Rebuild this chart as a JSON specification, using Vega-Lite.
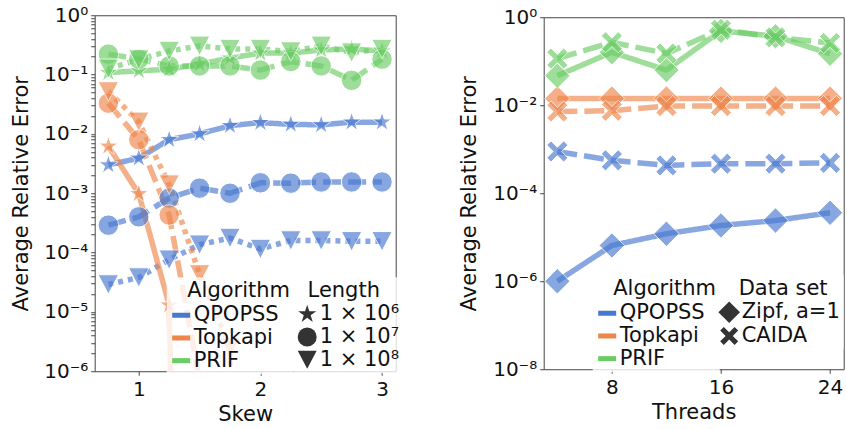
{
  "$schema": "https://vega.github.io/schema/vega-lite/v6.json",
  "padding": {"left": 9.7, "top": 4, "right": 2, "bottom": 2},
  "spacing": 54,
  "center": true,
  "config": {
    "font": "DejaVu Sans",
    "view": {"stroke": "#444", "strokeWidth": 1},
    "axis": {"labelFont": "DejaVu Sans", "titleFont": "DejaVu Sans", "labelFontSize": 20, "titleFontSize": 21, "titleFontWeight": "normal", "labelColor": "#111", "titleColor": "#111", "domain": false, "grid": false, "tickColor": "#444", "tickSize": 4, "labelPadding": 3},
    "legend": {"titleFontSize": 21, "labelFontSize": 21, "titleFontWeight": "normal", "titleColor": "#111", "labelColor": "#111", "titleFont": "DejaVu Sans", "labelFont": "DejaVu Sans", "rowPadding": 0.7, "titlePadding": 2.5, "padding": 3, "fillColor": "rgba(255,255,255,0.8)"}
  },
  "resolve": {
    "scale": {"color": "independent", "shape": "independent", "strokeDash": "independent"},
    "legend": {"color": "independent", "shape": "independent", "strokeDash": "independent"}
  },
  "datasets": {
    "skew": [
      {"Skew": 0.75, "Algorithm": "QPOPSS", "Length": "1 × 10⁶", "Error": 0.0030},
      {"Skew": 1.0, "Algorithm": "QPOPSS", "Length": "1 × 10⁶", "Error": 0.0039},
      {"Skew": 1.25, "Algorithm": "QPOPSS", "Length": "1 × 10⁶", "Error": 0.008},
      {"Skew": 1.5, "Algorithm": "QPOPSS", "Length": "1 × 10⁶", "Error": 0.010},
      {"Skew": 1.75, "Algorithm": "QPOPSS", "Length": "1 × 10⁶", "Error": 0.0138},
      {"Skew": 2.0, "Algorithm": "QPOPSS", "Length": "1 × 10⁶", "Error": 0.0155},
      {"Skew": 2.25, "Algorithm": "QPOPSS", "Length": "1 × 10⁶", "Error": 0.0145},
      {"Skew": 2.5, "Algorithm": "QPOPSS", "Length": "1 × 10⁶", "Error": 0.0142},
      {"Skew": 2.75, "Algorithm": "QPOPSS", "Length": "1 × 10⁶", "Error": 0.0158},
      {"Skew": 3.0, "Algorithm": "QPOPSS", "Length": "1 × 10⁶", "Error": 0.0158},
      {"Skew": 0.75, "Algorithm": "QPOPSS", "Length": "1 × 10⁷", "Error": 0.00029},
      {"Skew": 1.0, "Algorithm": "QPOPSS", "Length": "1 × 10⁷", "Error": 0.00040},
      {"Skew": 1.25, "Algorithm": "QPOPSS", "Length": "1 × 10⁷", "Error": 0.00083},
      {"Skew": 1.5, "Algorithm": "QPOPSS", "Length": "1 × 10⁷", "Error": 0.00122},
      {"Skew": 1.75, "Algorithm": "QPOPSS", "Length": "1 × 10⁷", "Error": 0.00100},
      {"Skew": 2.0, "Algorithm": "QPOPSS", "Length": "1 × 10⁷", "Error": 0.00150},
      {"Skew": 2.25, "Algorithm": "QPOPSS", "Length": "1 × 10⁷", "Error": 0.00148},
      {"Skew": 2.5, "Algorithm": "QPOPSS", "Length": "1 × 10⁷", "Error": 0.00155},
      {"Skew": 2.75, "Algorithm": "QPOPSS", "Length": "1 × 10⁷", "Error": 0.00155},
      {"Skew": 3.0, "Algorithm": "QPOPSS", "Length": "1 × 10⁷", "Error": 0.00155},
      {"Skew": 0.75, "Algorithm": "QPOPSS", "Length": "1 × 10⁸", "Error": 0.000029},
      {"Skew": 1.0, "Algorithm": "QPOPSS", "Length": "1 × 10⁸", "Error": 0.000038},
      {"Skew": 1.25, "Algorithm": "QPOPSS", "Length": "1 × 10⁸", "Error": 0.000076},
      {"Skew": 1.5, "Algorithm": "QPOPSS", "Length": "1 × 10⁸", "Error": 0.000136},
      {"Skew": 1.75, "Algorithm": "QPOPSS", "Length": "1 × 10⁸", "Error": 0.000176},
      {"Skew": 2.0, "Algorithm": "QPOPSS", "Length": "1 × 10⁸", "Error": 0.000115},
      {"Skew": 2.25, "Algorithm": "QPOPSS", "Length": "1 × 10⁸", "Error": 0.000160},
      {"Skew": 2.5, "Algorithm": "QPOPSS", "Length": "1 × 10⁸", "Error": 0.000160},
      {"Skew": 2.75, "Algorithm": "QPOPSS", "Length": "1 × 10⁸", "Error": 0.000155},
      {"Skew": 3.0, "Algorithm": "QPOPSS", "Length": "1 × 10⁸", "Error": 0.000155},
      {"Skew": 0.75, "Algorithm": "Topkapi", "Length": "1 × 10⁶", "Error": 0.0062},
      {"Skew": 1.0, "Algorithm": "Topkapi", "Length": "1 × 10⁶", "Error": 0.00098},
      {"Skew": 1.25, "Algorithm": "Topkapi", "Length": "1 × 10⁶", "Error": 0.000013},
      {"Skew": 1.5, "Algorithm": "Topkapi", "Length": "1 × 10⁶", "Error": 1e-30},
      {"Skew": 1.75, "Algorithm": "Topkapi", "Length": "1 × 10⁶", "Error": 1e-30},
      {"Skew": 2.0, "Algorithm": "Topkapi", "Length": "1 × 10⁶", "Error": 1e-30},
      {"Skew": 2.25, "Algorithm": "Topkapi", "Length": "1 × 10⁶", "Error": 1e-30},
      {"Skew": 2.5, "Algorithm": "Topkapi", "Length": "1 × 10⁶", "Error": 1e-30},
      {"Skew": 2.75, "Algorithm": "Topkapi", "Length": "1 × 10⁶", "Error": 1e-30},
      {"Skew": 3.0, "Algorithm": "Topkapi", "Length": "1 × 10⁶", "Error": 1e-30},
      {"Skew": 0.75, "Algorithm": "Topkapi", "Length": "1 × 10⁷", "Error": 0.033},
      {"Skew": 1.0, "Algorithm": "Topkapi", "Length": "1 × 10⁷", "Error": 0.008},
      {"Skew": 1.25, "Algorithm": "Topkapi", "Length": "1 × 10⁷", "Error": 0.00043},
      {"Skew": 1.5, "Algorithm": "Topkapi", "Length": "1 × 10⁷", "Error": 7e-7},
      {"Skew": 1.75, "Algorithm": "Topkapi", "Length": "1 × 10⁷", "Error": 1e-30},
      {"Skew": 2.0, "Algorithm": "Topkapi", "Length": "1 × 10⁷", "Error": 1e-30},
      {"Skew": 2.25, "Algorithm": "Topkapi", "Length": "1 × 10⁷", "Error": 1e-30},
      {"Skew": 2.5, "Algorithm": "Topkapi", "Length": "1 × 10⁷", "Error": 1e-30},
      {"Skew": 2.75, "Algorithm": "Topkapi", "Length": "1 × 10⁷", "Error": 1e-30},
      {"Skew": 3.0, "Algorithm": "Topkapi", "Length": "1 × 10⁷", "Error": 1e-30},
      {"Skew": 0.75, "Algorithm": "Topkapi", "Length": "1 × 10⁸", "Error": 0.052},
      {"Skew": 1.0, "Algorithm": "Topkapi", "Length": "1 × 10⁸", "Error": 0.016},
      {"Skew": 1.25, "Algorithm": "Topkapi", "Length": "1 × 10⁸", "Error": 0.0014},
      {"Skew": 1.5, "Algorithm": "Topkapi", "Length": "1 × 10⁸", "Error": 0.000043},
      {"Skew": 1.75, "Algorithm": "Topkapi", "Length": "1 × 10⁸", "Error": 0.0000025},
      {"Skew": 2.0, "Algorithm": "Topkapi", "Length": "1 × 10⁸", "Error": 1e-30},
      {"Skew": 2.25, "Algorithm": "Topkapi", "Length": "1 × 10⁸", "Error": 1e-30},
      {"Skew": 2.5, "Algorithm": "Topkapi", "Length": "1 × 10⁸", "Error": 1e-30},
      {"Skew": 2.75, "Algorithm": "Topkapi", "Length": "1 × 10⁸", "Error": 1e-30},
      {"Skew": 3.0, "Algorithm": "Topkapi", "Length": "1 × 10⁸", "Error": 1e-30},
      {"Skew": 0.75, "Algorithm": "PRIF", "Length": "1 × 10⁶", "Error": 0.108},
      {"Skew": 1.0, "Algorithm": "PRIF", "Length": "1 × 10⁶", "Error": 0.116},
      {"Skew": 1.25, "Algorithm": "PRIF", "Length": "1 × 10⁶", "Error": 0.123},
      {"Skew": 1.5, "Algorithm": "PRIF", "Length": "1 × 10⁶", "Error": 0.15},
      {"Skew": 1.75, "Algorithm": "PRIF", "Length": "1 × 10⁶", "Error": 0.19},
      {"Skew": 2.0, "Algorithm": "PRIF", "Length": "1 × 10⁶", "Error": 0.23},
      {"Skew": 2.25, "Algorithm": "PRIF", "Length": "1 × 10⁶", "Error": 0.23},
      {"Skew": 2.5, "Algorithm": "PRIF", "Length": "1 × 10⁶", "Error": 0.26},
      {"Skew": 2.75, "Algorithm": "PRIF", "Length": "1 × 10⁶", "Error": 0.27},
      {"Skew": 3.0, "Algorithm": "PRIF", "Length": "1 × 10⁶", "Error": 0.25},
      {"Skew": 0.75, "Algorithm": "PRIF", "Length": "1 × 10⁷", "Error": 0.221},
      {"Skew": 1.0, "Algorithm": "PRIF", "Length": "1 × 10⁷", "Error": 0.182},
      {"Skew": 1.25, "Algorithm": "PRIF", "Length": "1 × 10⁷", "Error": 0.14},
      {"Skew": 1.5, "Algorithm": "PRIF", "Length": "1 × 10⁷", "Error": 0.14},
      {"Skew": 1.75, "Algorithm": "PRIF", "Length": "1 × 10⁷", "Error": 0.14},
      {"Skew": 2.0, "Algorithm": "PRIF", "Length": "1 × 10⁷", "Error": 0.119},
      {"Skew": 2.25, "Algorithm": "PRIF", "Length": "1 × 10⁷", "Error": 0.166},
      {"Skew": 2.5, "Algorithm": "PRIF", "Length": "1 × 10⁷", "Error": 0.14},
      {"Skew": 2.75, "Algorithm": "PRIF", "Length": "1 × 10⁷", "Error": 0.08},
      {"Skew": 3.0, "Algorithm": "PRIF", "Length": "1 × 10⁷", "Error": 0.182},
      {"Skew": 0.75, "Algorithm": "PRIF", "Length": "1 × 10⁸", "Error": 0.125},
      {"Skew": 1.0, "Algorithm": "PRIF", "Length": "1 × 10⁸", "Error": 0.18},
      {"Skew": 1.25, "Algorithm": "PRIF", "Length": "1 × 10⁸", "Error": 0.25},
      {"Skew": 1.5, "Algorithm": "PRIF", "Length": "1 × 10⁸", "Error": 0.305},
      {"Skew": 1.75, "Algorithm": "PRIF", "Length": "1 × 10⁸", "Error": 0.27},
      {"Skew": 2.0, "Algorithm": "PRIF", "Length": "1 × 10⁸", "Error": 0.27},
      {"Skew": 2.25, "Algorithm": "PRIF", "Length": "1 × 10⁸", "Error": 0.245},
      {"Skew": 2.5, "Algorithm": "PRIF", "Length": "1 × 10⁸", "Error": 0.305},
      {"Skew": 2.75, "Algorithm": "PRIF", "Length": "1 × 10⁸", "Error": 0.235},
      {"Skew": 3.0, "Algorithm": "PRIF", "Length": "1 × 10⁸", "Error": 0.27}
    ],
    "threads": [
      {"Threads": 4, "Algorithm": "QPOPSS", "Dataset": "Zipf, a=1", "Error": 0.000001},
      {"Threads": 8, "Algorithm": "QPOPSS", "Dataset": "Zipf, a=1", "Error": 0.0000065},
      {"Threads": 12, "Algorithm": "QPOPSS", "Dataset": "Zipf, a=1", "Error": 0.000012},
      {"Threads": 16, "Algorithm": "QPOPSS", "Dataset": "Zipf, a=1", "Error": 0.0000185},
      {"Threads": 20, "Algorithm": "QPOPSS", "Dataset": "Zipf, a=1", "Error": 0.000024},
      {"Threads": 24, "Algorithm": "QPOPSS", "Dataset": "Zipf, a=1", "Error": 0.000036},
      {"Threads": 4, "Algorithm": "QPOPSS", "Dataset": "CAIDA", "Error": 0.00089},
      {"Threads": 8, "Algorithm": "QPOPSS", "Dataset": "CAIDA", "Error": 0.00056},
      {"Threads": 12, "Algorithm": "QPOPSS", "Dataset": "CAIDA", "Error": 0.00043},
      {"Threads": 16, "Algorithm": "QPOPSS", "Dataset": "CAIDA", "Error": 0.00047},
      {"Threads": 20, "Algorithm": "QPOPSS", "Dataset": "CAIDA", "Error": 0.00047},
      {"Threads": 24, "Algorithm": "QPOPSS", "Dataset": "CAIDA", "Error": 0.00049},
      {"Threads": 4, "Algorithm": "Topkapi", "Dataset": "Zipf, a=1", "Error": 0.0142},
      {"Threads": 8, "Algorithm": "Topkapi", "Dataset": "Zipf, a=1", "Error": 0.0142},
      {"Threads": 12, "Algorithm": "Topkapi", "Dataset": "Zipf, a=1", "Error": 0.0142},
      {"Threads": 16, "Algorithm": "Topkapi", "Dataset": "Zipf, a=1", "Error": 0.0142},
      {"Threads": 20, "Algorithm": "Topkapi", "Dataset": "Zipf, a=1", "Error": 0.0142},
      {"Threads": 24, "Algorithm": "Topkapi", "Dataset": "Zipf, a=1", "Error": 0.0142},
      {"Threads": 4, "Algorithm": "Topkapi", "Dataset": "CAIDA", "Error": 0.0072},
      {"Threads": 8, "Algorithm": "Topkapi", "Dataset": "CAIDA", "Error": 0.0075},
      {"Threads": 12, "Algorithm": "Topkapi", "Dataset": "CAIDA", "Error": 0.0096},
      {"Threads": 16, "Algorithm": "Topkapi", "Dataset": "CAIDA", "Error": 0.0096},
      {"Threads": 20, "Algorithm": "Topkapi", "Dataset": "CAIDA", "Error": 0.0096},
      {"Threads": 24, "Algorithm": "Topkapi", "Dataset": "CAIDA", "Error": 0.0096},
      {"Threads": 4, "Algorithm": "PRIF", "Dataset": "Zipf, a=1", "Error": 0.047},
      {"Threads": 8, "Algorithm": "PRIF", "Dataset": "Zipf, a=1", "Error": 0.16},
      {"Threads": 12, "Algorithm": "PRIF", "Dataset": "Zipf, a=1", "Error": 0.063},
      {"Threads": 16, "Algorithm": "PRIF", "Dataset": "Zipf, a=1", "Error": 0.49},
      {"Threads": 20, "Algorithm": "PRIF", "Dataset": "Zipf, a=1", "Error": 0.37},
      {"Threads": 24, "Algorithm": "PRIF", "Dataset": "Zipf, a=1", "Error": 0.148},
      {"Threads": 4, "Algorithm": "PRIF", "Dataset": "CAIDA", "Error": 0.115},
      {"Threads": 8, "Algorithm": "PRIF", "Dataset": "CAIDA", "Error": 0.27},
      {"Threads": 12, "Algorithm": "PRIF", "Dataset": "CAIDA", "Error": 0.15},
      {"Threads": 16, "Algorithm": "PRIF", "Dataset": "CAIDA", "Error": 0.52},
      {"Threads": 20, "Algorithm": "PRIF", "Dataset": "CAIDA", "Error": 0.35},
      {"Threads": 24, "Algorithm": "PRIF", "Dataset": "CAIDA", "Error": 0.26}
    ]
  },
  "hconcat": [
    {
      "width": 301,
      "height": 356,
      "data": {"name": "skew"},
      "encoding": {
        "x": {"field": "Skew", "type": "quantitative", "scale": {"domain": [0.6375, 3.1125], "nice": false, "zero": false}, "axis": {"values": [1, 2, 3], "title": "Skew", "labelFlush": false, "labelPadding": 4}},
        "y": {"field": "Error", "type": "quantitative", "scale": {"type": "log", "domain": [0.000001, 1], "nice": false},
          "axis": {"title": "Average Relative Error", "titlePadding": 12.3, "labelOverlap": false, "labelFlush": false,
            "values": [0.000001, 0.000002, 0.000003, 0.000004, 0.000005, 0.000006, 0.000007, 0.000008, 0.000009, 0.00001, 0.00002, 0.00003, 0.00004, 0.00005, 0.00006, 0.00007, 0.00008, 0.00009, 0.0001, 0.0002, 0.0003, 0.0004, 0.0005, 0.0006, 0.0007, 0.0008, 0.0009, 0.001, 0.002, 0.003, 0.004, 0.005, 0.006, 0.007, 0.008, 0.009, 0.01, 0.02, 0.03, 0.04, 0.05, 0.06, 0.07, 0.08, 0.09, 0.1, 0.2, 0.3, 0.4, 0.5, 0.6, 0.7, 0.8, 0.9, 1],
            "labelExpr": "abs(log(datum.value)/LN10 - round(log(datum.value)/LN10)) < 0.001 ? ['10⁰','10⁻¹','10⁻²','10⁻³','10⁻⁴','10⁻⁵','10⁻⁶','10⁻⁷','10⁻⁸'][round(-log(datum.value)/LN10)] : ''",
            "encode": {"ticks": {"update": {"x2": {"signal": "abs(log(datum.value)/LN10 - round(log(datum.value)/LN10)) < 0.001 ? -4 : -2"}}}}
          }}
      },
      "layer": [
        {
          "mark": {"type": "line", "strokeWidth": 5.5, "opacity": 0.65, "clip": true, "strokeCap": "butt", "strokeJoin": "round"},
          "encoding": {
            "color": {"field": "Algorithm", "type": "nominal", "scale": {"domain": ["QPOPSS", "Topkapi", "PRIF"], "range": ["#4878d0", "#ee854a", "#6acc64"]},
              "legend": {"orient": "none", "legendX": 72, "legendY": 262, "title": "\u200b\u00a0\u00a0\u2009Algorithm", "symbolType": "stroke", "symbolSize": 324, "symbolStrokeWidth": 5, "labelOffset": 1, "symbolOpacity": 1,
                "encode": {"symbols": {"update": {"opacity": {"value": 1}}}}}},
            "strokeDash": {"field": "Length", "type": "nominal", "scale": {"domain": ["1 × 10⁶", "1 × 10⁷", "1 × 10⁸"], "range": [[1, 0], [18, 7], [5, 5]]},
              "legend": {"orient": "none", "legendX": 199, "legendY": 262, "title": "\u200b\u00a0\u2009Length", "symbolSize": 360, "labelOffset": 2,
                "symbolFillColor": "#333", "symbolStrokeColor": "#333", "symbolStrokeWidth": 0, "symbolOpacity": 1, "symbolDash": [1, 0]}}
          }
        },
        {
          "mark": {"type": "point", "filled": true, "opacity": 0.65, "size": 420, "stroke": "white", "strokeWidth": 1, "clip": true},
          "encoding": {
            "color": {"field": "Algorithm", "type": "nominal", "scale": {"domain": ["QPOPSS", "Topkapi", "PRIF"], "range": ["#4878d0", "#ee854a", "#6acc64"]}, "legend": null},
            "shape": {"field": "Length", "type": "nominal",
              "scale": {"domain": ["1 × 10⁶", "1 × 10⁷", "1 × 10⁸"], "range": ["M0,-1L0.225,-0.309L0.951,-0.309L0.363,0.118L0.588,0.809L0,0.382L-0.588,0.809L-0.363,0.118L-0.951,-0.309L-0.225,-0.309Z", "circle", "M-1,-0.95L1,-0.95L0,0.95Z"]},
              "legend": {"orient": "none", "legendX": 199, "legendY": 262, "title": "\u200b\u00a0\u2009Length", "symbolSize": 360, "labelOffset": 2,
                "symbolFillColor": "#333", "symbolStrokeColor": "#333", "symbolStrokeWidth": 0, "symbolOpacity": 1, "symbolDash": [1, 0]}}
          }
        }
      ]
    },
    {
      "width": 300,
      "height": 352,
      "data": {"name": "threads"},
      "encoding": {
        "x": {"field": "Threads", "type": "quantitative", "scale": {"domain": [3, 25], "nice": false, "zero": false}, "axis": {"values": [8, 16, 24], "title": "Threads", "labelFlush": false, "labelPadding": 4}},
        "y": {"field": "Error", "type": "quantitative", "scale": {"type": "log", "domain": [0.00000001, 1], "nice": false},
          "axis": {"title": "Average Relative Error", "titlePadding": 13, "labelOverlap": false, "labelFlush": false, "values": [0.00000001, 0.000001, 0.0001, 0.01, 1],
            "labelExpr": "['10⁰','10⁻¹','10⁻²','10⁻³','10⁻⁴','10⁻⁵','10⁻⁶','10⁻⁷','10⁻⁸'][round(-log(datum.value)/LN10)]"}}
      },
      "layer": [
        {
          "mark": {"type": "line", "strokeWidth": 5.5, "opacity": 0.65, "clip": true, "strokeCap": "butt", "strokeJoin": "round"},
          "encoding": {
            "color": {"field": "Algorithm", "type": "nominal", "scale": {"domain": ["QPOPSS", "Topkapi", "PRIF"], "range": ["#4878d0", "#ee854a", "#6acc64"]},
              "legend": {"orient": "none", "legendX": 49, "legendY": 258, "title": "\u200b\u00a0\u00a0\u2009Algorithm", "symbolType": "stroke", "symbolSize": 324, "symbolStrokeWidth": 5, "labelOffset": 1, "symbolOpacity": 1,
                "encode": {"symbols": {"update": {"opacity": {"value": 1}}}}}},
            "strokeDash": {"field": "Dataset", "type": "nominal", "scale": {"domain": ["Zipf, a=1", "CAIDA"], "range": [[1, 0], [20, 7]]},
              "legend": {"orient": "none", "legendX": 172, "legendY": 258, "title": "\u200b\u00a0\u00a0\u00a0Data set", "symbolSize": 324, "labelOffset": 2,
                "symbolFillColor": "#333", "symbolStrokeColor": "#333", "symbolStrokeWidth": 0, "symbolOpacity": 1, "symbolDash": [1, 0]}}
          }
        },
        {
          "mark": {"type": "point", "filled": true, "opacity": 0.65, "size": 450, "stroke": "white", "strokeWidth": 1, "clip": true},
          "encoding": {
            "color": {"field": "Algorithm", "type": "nominal", "scale": {"domain": ["QPOPSS", "Topkapi", "PRIF"], "range": ["#4878d0", "#ee854a", "#6acc64"]}, "legend": null},
            "shape": {"field": "Dataset", "type": "nominal",
              "scale": {"domain": ["Zipf, a=1", "CAIDA"], "range": ["M0,-1.2L1.2,0L0,1.2L-1.2,0Z", "M-0.6,-1L0,-0.4L0.6,-1L1,-0.6L0.4,0L1,0.6L0.6,1L0,0.4L-0.6,1L-1,0.6L-0.4,0L-1,-0.6Z"]},
              "legend": {"orient": "none", "legendX": 172, "legendY": 258, "title": "\u200b\u00a0\u00a0\u00a0Data set", "symbolSize": 324, "labelOffset": 2,
                "symbolFillColor": "#333", "symbolStrokeColor": "#333", "symbolStrokeWidth": 0, "symbolOpacity": 1, "symbolDash": [1, 0]}}
          }
        }
      ]
    }
  ]
}
